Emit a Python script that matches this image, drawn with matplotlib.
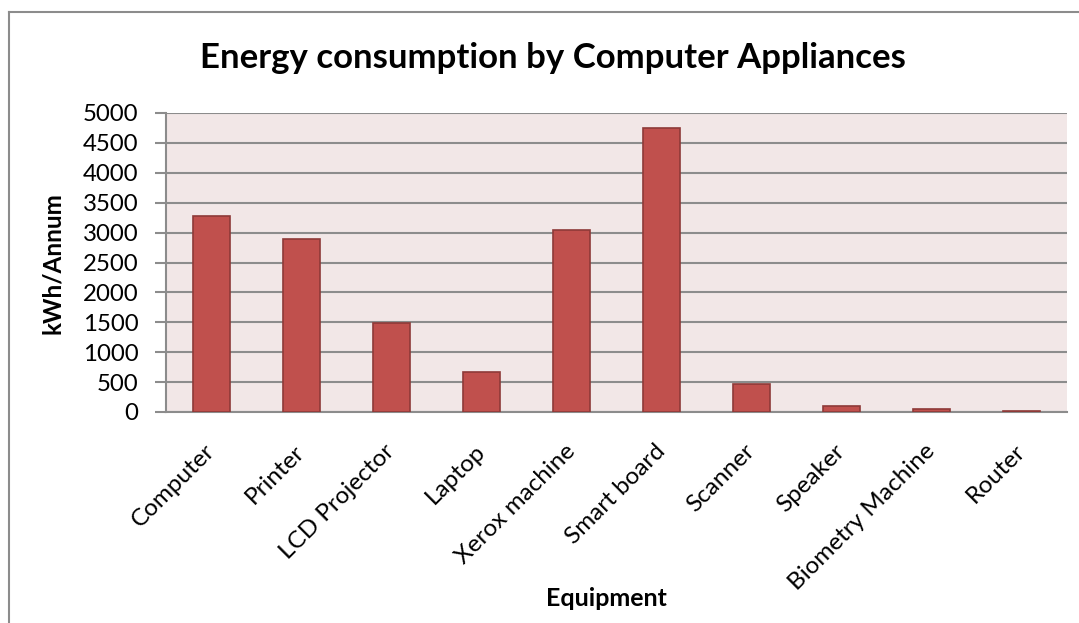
import matplotlib
matplotlib.use("Agg")
import matplotlib.pyplot as plt
from matplotlib.lines import Line2D

categories = ["Computer", "Printer", "LCD Projector", "Laptop", "Xerox machine",
              "Smart board", "Scanner", "Speaker", "Biometry Machine", "Router"]
values = [3270, 2890, 1480, 670, 3040, 4750, 465, 105, 55, 15]
yticks = [0, 500, 1000, 1500, 2000, 2500, 3000, 3500, 4000, 4500, 5000]

plt.rcParams['font.family'] = ['Lato', 'DejaVu Sans']

W, H = 1079, 623
fig = plt.figure(figsize=(W / 100, H / 100), dpi=100)
fig.patch.set_facecolor('white')

left, right, top, bottom = 166, 1067, 113, 412
ax = fig.add_axes([left / W, 1 - bottom / H, (right - left) / W, (bottom - top) / H])
ax.set_facecolor('#F2E7E7')

x = list(range(len(categories)))
ax.bar(x, values, width=0.41, color='#C0504D', edgecolor='#8E3A38', linewidth=1.2, zorder=3)

ax.set_xlim(-0.5, len(categories) - 0.5)
ax.set_ylim(0, 5000)
ax.set_yticks(yticks)
ax.set_yticklabels([str(v) for v in yticks], fontsize=17.3)
ax.yaxis.grid(True, color='#8C8C8C', linewidth=1.5, zorder=1)
ax.set_axisbelow(True)

ax.set_xticks(x)
ax.set_xticklabels(categories, rotation=45, ha='right', va='center',
                   rotation_mode='anchor', fontsize=17.5)
ax.tick_params(axis='x', length=0, pad=26)
ax.tick_params(axis='y', length=8, width=1.5, color='#8C8C8C', pad=12)

for s in ['top', 'right']:
    ax.spines[s].set_visible(False)
for s in ['left', 'bottom']:
    ax.spines[s].set_color('#8C8C8C')
    ax.spines[s].set_linewidth(1.5)

fig.text(0.5 * (200 + 905) / W, 1 - 58 / H, "Energy consumption by Computer Appliances",
         ha='center', va='center', fontsize=25, fontweight='bold')
fig.text(52 / W, 1 - 263 / H, "kWh/Annum", rotation=90, ha='center', va='center',
         fontsize=17.5, fontweight='bold')
fig.text(606 / W, 1 - 598 / H, "Equipment", ha='center', va='center',
         fontsize=18, fontweight='bold')

# outer chart frame
fig.add_artist(Line2D([9 / W, 9 / W], [0, 1 - 11.5 / H], transform=fig.transFigure,
                      color='#8C8C8C', linewidth=1.5))
fig.add_artist(Line2D([9 / W, 1], [1 - 11.5 / H, 1 - 11.5 / H], transform=fig.transFigure,
                      color='#8C8C8C', linewidth=1.5))

fig.savefig("out.png", dpi=100)
